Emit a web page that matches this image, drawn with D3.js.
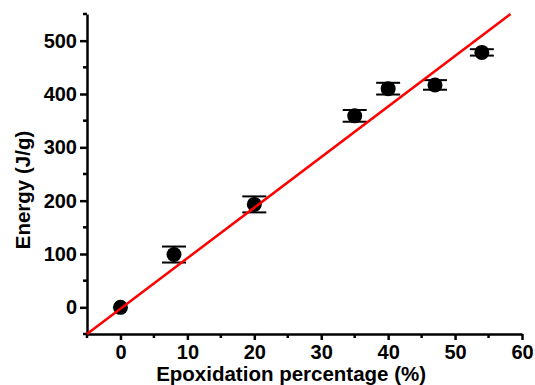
<!DOCTYPE html>
<html>
<head>
<meta charset="utf-8">
<script src="https://cdn.jsdelivr.net/npm/d3@7"></script>
<style>
  body { margin: 0; background: #fff; }
  svg { display: block; }
  .axis text { font-family: "Liberation Sans", Arial, sans-serif; font-weight: bold; font-size: 20px; fill: #000; }
  .title { font-family: "Liberation Sans", Arial, sans-serif; font-weight: bold; font-size: 20.5px; fill: #000; }
</style>
</head>
<body>
<div id="chart"></div>
<script>
// measured points
var epox = [0, 8, 20, 35, 40, 47, 54];
var energy = [0, 99, 193, 359, 410, 417, 478];
var errs = [0, 15, 15, 11, 11, 9, 6];

// linear fit (red line)
var fitSlope = 9.48;
var fitIntercept = -2.6;

var xTicks = [0, 10, 20, 30, 40, 50, 60];
var yTicks = [0, 100, 200, 300, 400, 500];

var margin = { top: 14, right: 13, bottom: 51, left: 87 };
var W = 535, H = 385;
var width = W - margin.left - margin.right;
var height = H - margin.top - margin.bottom;

var svg = d3.select("#chart").append("svg")
  .attr("width", W)
  .attr("height", H);

var chart = svg.append("g")
  .attr("transform", "translate(" + margin.left + "," + margin.top + ")");

var xScale = d3.scaleLinear().domain([-5, 60]).range([0, 435]);
var yScale = d3.scaleLinear().domain([-50, 550]).range([height, 0]);

// minor ticks
var xMinor = d3.range(-5, 61, 5).filter(function(v) { return v % 10 !== 0; });
var yMinor = d3.range(-50, 551, 50).filter(function(v) { return v % 100 !== 0; });

var xAxis = chart.append("g")
  .attr("class", "axis axis--x")
  .attr("transform", "translate(0," + height + ")")
  .call(d3.axisBottom(xScale).tickValues(xTicks).tickSize(6).tickPadding(5).tickSizeOuter(0));

xAxis.selectAll(".minor")
  .data(xMinor)
  .enter().append("line")
  .attr("class", "minor")
  .attr("x1", function(d) { return xScale(d); })
  .attr("x2", function(d) { return xScale(d); })
  .attr("y1", 0).attr("y2", 4)
  .attr("stroke", "#000").attr("stroke-width", 2.5);

var yAxis = chart.append("g")
  .attr("class", "axis axis--y")
  .call(d3.axisLeft(yScale).tickValues(yTicks).tickSize(7).tickPadding(3).tickSizeOuter(0));

yAxis.selectAll(".minor")
  .data(yMinor)
  .enter().append("line")
  .attr("class", "minor")
  .attr("y1", function(d) { return yScale(d); })
  .attr("y2", function(d) { return yScale(d); })
  .attr("x1", 0).attr("x2", -4)
  .attr("stroke", "#000").attr("stroke-width", 2.5);

chart.selectAll(".axis path").attr("stroke", "#000").attr("stroke-width", 2.5);
chart.selectAll(".axis .tick line").attr("stroke", "#000").attr("stroke-width", 2.5);
chart.selectAll(".axis text").attr("font-family", null).attr("font-size", null);

// fit line
var xEnd = (550 - fitIntercept) / fitSlope;
var fitData = [-5, xEnd].map(function(x) { return { x: x, y: fitSlope * x + fitIntercept }; });
var line = d3.line()
  .x(function(d) { return xScale(d.x); })
  .y(function(d) { return yScale(d.y); });

// error bars
var pts = epox.map(function(x, i) { return { x: x, y: energy[i], e: errs[i] }; });
var eb = chart.selectAll(".err")
  .data(pts.filter(function(d) { return d.e > 0; }))
  .enter().append("g")
  .attr("class", "err")
  .attr("stroke", "#000")
  .attr("stroke-width", 2);

eb.append("line")
  .attr("x1", function(d) { return xScale(d.x); })
  .attr("x2", function(d) { return xScale(d.x); })
  .attr("y1", function(d) { return yScale(d.y - d.e); })
  .attr("y2", function(d) { return yScale(d.y + d.e); });
[-1, 1].forEach(function(s) {
  eb.append("line")
    .attr("x1", function(d) { return xScale(d.x) - 12; })
    .attr("x2", function(d) { return xScale(d.x) + 12; })
    .attr("y1", function(d) { return yScale(d.y + s * d.e); })
    .attr("y2", function(d) { return yScale(d.y + s * d.e); });
});

chart.selectAll(".dot")
  .data(pts)
  .enter().append("circle")
  .attr("class", "dot")
  .attr("cx", function(d) { return xScale(d.x); })
  .attr("cy", function(d) { return yScale(d.y); })
  .attr("r", 7.5)
  .attr("fill", "#000");

chart.append("path")
  .datum(fitData)
  .attr("d", line)
  .attr("fill", "none")
  .attr("stroke", "#f00")
  .attr("stroke-width", 2.5);

// axis titles
svg.append("text")
  .attr("class", "title")
  .attr("x", margin.left + xScale(25.5))
  .attr("y", 381)
  .attr("text-anchor", "middle")
  .text("Epoxidation percentage (%)");

svg.append("text")
  .attr("class", "title")
  .attr("transform", "translate(30," + 190 + ") rotate(-90)")
  .attr("text-anchor", "middle")
  .text("Energy (J/g)");
</script>
</body>
</html>
